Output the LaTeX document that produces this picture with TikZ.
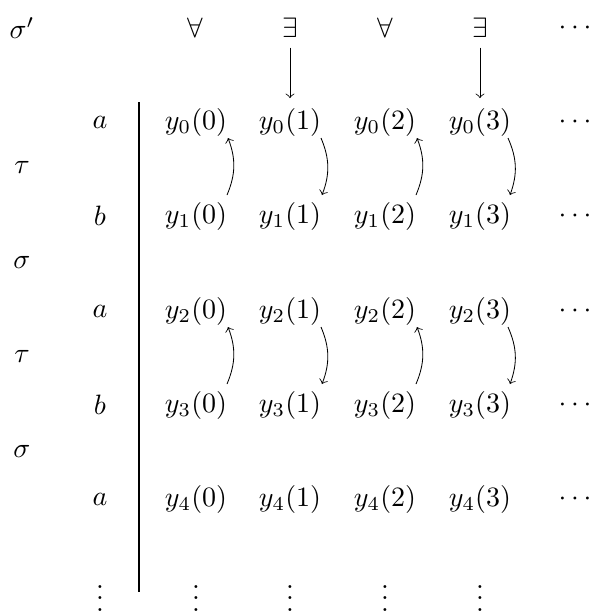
\documentclass[tikz,border=0pt]{standalone}
\begin{document}
\begin{tikzpicture}[x=0.357pt,y=-0.357pt,
  lbl/.style={inner sep=3.33pt},
  arr/.style={->,line width=0.3pt},
  curv/.style={->,line width=0.3pt}]
\useasboundingbox (0,0) rectangle (589,614);
% top row
\node[lbl] (sp) at (22,28) {$\sigma'$};
\node[lbl] (A1) at (195,28) {$\forall$};
\node[lbl] (E1) at (290,28) {$\exists$};
\node[lbl] (A2) at (385,28) {$\forall$};
\node[lbl] (E2) at (480,28) {$\exists$};
\node[lbl] (dt) at (575,28) {$\cdots$};
% left labels
\node[lbl] (t1) at (22,167) {$\tau$};
\node[lbl] (s1) at (22,262) {$\sigma$};
\node[lbl] (t2) at (22,356) {$\tau$};
\node[lbl] (s2) at (22,451) {$\sigma$};
\foreach \r/\l/\yy in {0/a/122,1/b/216,2/a/311,3/b/405,4/a/499}{
  \node[lbl] (L\r) at (100,\yy) {$\l$};
  \foreach \c/\xx in {0/196,1/290,2/385,3/480}{
    \node[lbl] (y\r\c) at (\xx,\yy) {$y_{\r}(\c)$};
  }
  \node[lbl] (d\r) at (575,\yy) {$\cdots$};
}
\foreach \c/\xx in {v/100,0/196,1/290,2/385,3/480}{
  \node[inner sep=0pt] (vd\c) at (\xx,590) {$\vdots$};
}
% vertical rule
\coordinate (vt) at (139,102);
\coordinate (vb) at (139,592);
\draw[line width=0.4pt] (vt) -- (vb);
% arrows from exists
\draw[arr] (E1.south) -- (E1.south |- y01.north);
\draw[arr] (E2.south) -- (E2.south |- y03.north);
% curved arrows
\foreach \r/\ya/\yb in {a/138/195,b/327/384}{
  \coordinate (u1\r) at (227,\yb); \coordinate (u1\r') at (228,\ya);
  \coordinate (u2\r) at (416,\yb); \coordinate (u2\r') at (417,\ya);
  \coordinate (w1\r) at (321,\ya); \coordinate (w1\r') at (322,\yb);
  \coordinate (w2\r) at (508,\ya); \coordinate (w2\r') at (510,\yb);
  \draw[curv] (u1\r) to[bend right=22] (u1\r');
  \draw[curv] (u2\r) to[bend right=22] (u2\r');
  \draw[curv] (w1\r) to[bend left=22] (w1\r');
  \draw[curv] (w2\r) to[bend left=22] (w2\r');
}
\end{tikzpicture}
\end{document}
